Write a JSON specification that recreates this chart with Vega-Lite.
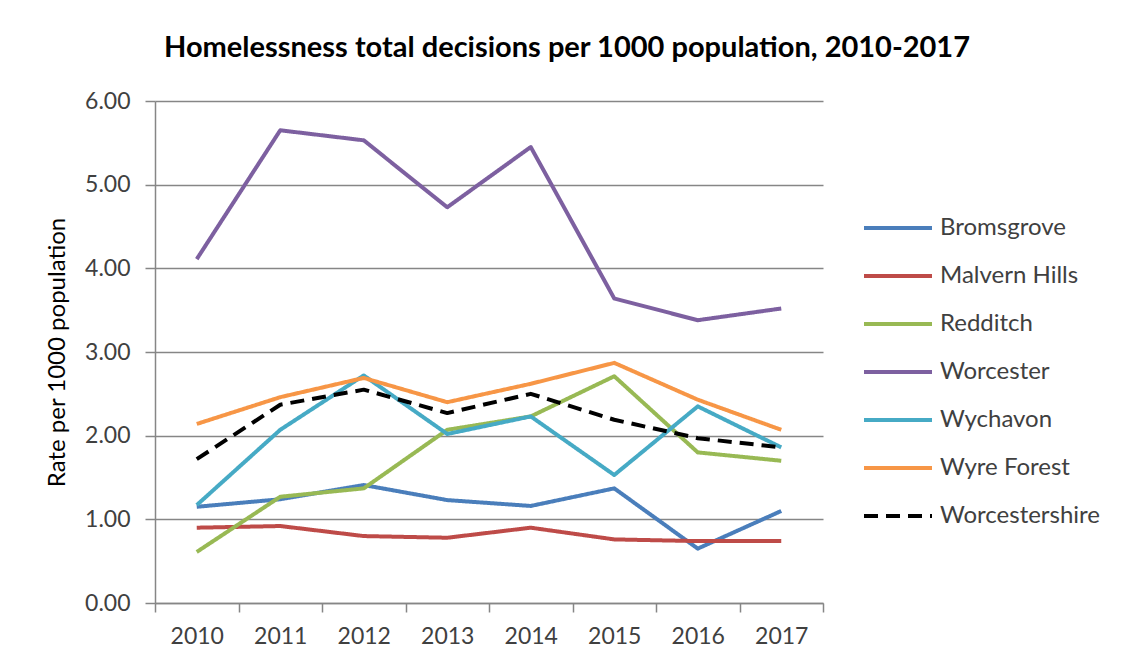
{
  "$schema": "https://vega.github.io/schema/vega-lite/v6.json",
  "width": 668,
  "height": 502,
  "autosize": {"type": "none"},
  "padding": {"left": 155, "top": 101, "right": 299, "bottom": 61},
  "background": "white",
  "title": {
    "text": "Homelessness total decisions per 1000 population, 2010-2017",
    "font": "Lato",
    "fontSize": 29,
    "fontWeight": "bold",
    "color": "#000000",
    "anchor": "middle",
    "dx": 78,
    "offset": 27
  },
  "data": {
    "values": [
      {"series": "Bromsgrove", "year": "2010", "rate": 1.15},
      {"series": "Bromsgrove", "year": "2011", "rate": 1.24},
      {"series": "Bromsgrove", "year": "2012", "rate": 1.41},
      {"series": "Bromsgrove", "year": "2013", "rate": 1.23},
      {"series": "Bromsgrove", "year": "2014", "rate": 1.16},
      {"series": "Bromsgrove", "year": "2015", "rate": 1.37},
      {"series": "Bromsgrove", "year": "2016", "rate": 0.65},
      {"series": "Bromsgrove", "year": "2017", "rate": 1.10},
      {"series": "Malvern Hills", "year": "2010", "rate": 0.90},
      {"series": "Malvern Hills", "year": "2011", "rate": 0.92},
      {"series": "Malvern Hills", "year": "2012", "rate": 0.80},
      {"series": "Malvern Hills", "year": "2013", "rate": 0.78},
      {"series": "Malvern Hills", "year": "2014", "rate": 0.90},
      {"series": "Malvern Hills", "year": "2015", "rate": 0.76},
      {"series": "Malvern Hills", "year": "2016", "rate": 0.74},
      {"series": "Malvern Hills", "year": "2017", "rate": 0.74},
      {"series": "Redditch", "year": "2010", "rate": 0.61},
      {"series": "Redditch", "year": "2011", "rate": 1.27},
      {"series": "Redditch", "year": "2012", "rate": 1.37},
      {"series": "Redditch", "year": "2013", "rate": 2.07},
      {"series": "Redditch", "year": "2014", "rate": 2.23},
      {"series": "Redditch", "year": "2015", "rate": 2.71},
      {"series": "Redditch", "year": "2016", "rate": 1.80},
      {"series": "Redditch", "year": "2017", "rate": 1.70},
      {"series": "Worcester", "year": "2010", "rate": 4.11},
      {"series": "Worcester", "year": "2011", "rate": 5.65},
      {"series": "Worcester", "year": "2012", "rate": 5.53},
      {"series": "Worcester", "year": "2013", "rate": 4.73},
      {"series": "Worcester", "year": "2014", "rate": 5.45},
      {"series": "Worcester", "year": "2015", "rate": 3.64},
      {"series": "Worcester", "year": "2016", "rate": 3.38},
      {"series": "Worcester", "year": "2017", "rate": 3.52},
      {"series": "Wychavon", "year": "2010", "rate": 1.17},
      {"series": "Wychavon", "year": "2011", "rate": 2.07},
      {"series": "Wychavon", "year": "2012", "rate": 2.72},
      {"series": "Wychavon", "year": "2013", "rate": 2.02},
      {"series": "Wychavon", "year": "2014", "rate": 2.23},
      {"series": "Wychavon", "year": "2015", "rate": 1.53},
      {"series": "Wychavon", "year": "2016", "rate": 2.35},
      {"series": "Wychavon", "year": "2017", "rate": 1.86},
      {"series": "Wyre Forest", "year": "2010", "rate": 2.14},
      {"series": "Wyre Forest", "year": "2011", "rate": 2.46},
      {"series": "Wyre Forest", "year": "2012", "rate": 2.69},
      {"series": "Wyre Forest", "year": "2013", "rate": 2.40},
      {"series": "Wyre Forest", "year": "2014", "rate": 2.62},
      {"series": "Wyre Forest", "year": "2015", "rate": 2.87},
      {"series": "Wyre Forest", "year": "2016", "rate": 2.43},
      {"series": "Wyre Forest", "year": "2017", "rate": 2.07},
      {"series": "Worcestershire", "year": "2010", "rate": 1.72},
      {"series": "Worcestershire", "year": "2011", "rate": 2.37},
      {"series": "Worcestershire", "year": "2012", "rate": 2.55},
      {"series": "Worcestershire", "year": "2013", "rate": 2.27},
      {"series": "Worcestershire", "year": "2014", "rate": 2.50},
      {"series": "Worcestershire", "year": "2015", "rate": 2.19},
      {"series": "Worcestershire", "year": "2016", "rate": 1.97},
      {"series": "Worcestershire", "year": "2017", "rate": 1.86}
    ]
  },
  "mark": {"type": "line", "strokeWidth": 4, "strokeJoin": "round"},
  "encoding": {
    "x": {
      "field": "year",
      "type": "ordinal",
      "bandPosition": 0.5,
      "scale": {"type": "band", "paddingInner": 0, "paddingOuter": 0},
      "axis": {
        "title": null,
        "labelAngle": 0,
        "tickBand": "extent",
        "tickSize": 9,
        "tickColor": "#868686",
        "tickWidth": 1.5,
        "domainColor": "#868686",
        "domainWidth": 1.5,
        "grid": false,
        "labelFont": "Lato",
        "labelFontSize": 23,
        "labelColor": "#404040",
        "labelPadding": 13
      }
    },
    "y": {
      "field": "rate",
      "type": "quantitative",
      "scale": {"domain": [0, 6], "nice": false},
      "axis": {
        "values": [0, 1, 2, 3, 4, 5, 6],
        "format": ".2f",
        "grid": true,
        "gridColor": "#868686",
        "gridWidth": 1.5,
        "domainColor": "#868686",
        "domainWidth": 1.5,
        "tickColor": "#868686",
        "tickWidth": 1.5,
        "tickSize": 10,
        "labelFont": "Lato",
        "labelFontSize": 23,
        "labelColor": "#404040",
        "labelPadding": 15,
        "title": "Rate per 1000 population",
        "titleFont": "Lato",
        "titleFontSize": 24,
        "titleFontWeight": "normal",
        "titleColor": "#000000",
        "titlePadding": 15
      }
    },
    "color": {
      "field": "series",
      "type": "nominal",
      "scale": {
        "domain": ["Bromsgrove", "Malvern Hills", "Redditch", "Worcester", "Wychavon", "Wyre Forest", "Worcestershire"],
        "range": ["#4a7ebb", "#be4b48", "#98b954", "#7d60a0", "#46aac5", "#f79646", "#000000"]
      },
      "legend": {
        "title": null,
        "orient": "none",
        "legendX": 707,
        "legendY": 91,
        "symbolType": "stroke",
        "symbolSize": 4624,
        "symbolStrokeWidth": 4,
        "labelFont": "Lato",
        "labelFontSize": 24,
        "labelColor": "#404040",
        "labelOffset": 6,
        "rowPadding": 0
      }
    },
    "strokeDash": {
      "field": "series",
      "type": "nominal",
      "scale": {
        "domain": ["Bromsgrove", "Malvern Hills", "Redditch", "Worcester", "Wychavon", "Wyre Forest", "Worcestershire"],
        "range": [[1, 0], [1, 0], [1, 0], [1, 0], [1, 0], [1, 0], [14, 8]]
      },
      "legend": {
        "title": null,
        "orient": "none",
        "legendX": 707,
        "legendY": 91,
        "symbolType": "stroke",
        "symbolSize": 4624,
        "symbolStrokeWidth": 4,
        "labelFont": "Lato",
        "labelFontSize": 24,
        "labelColor": "#404040",
        "labelOffset": 6,
        "rowPadding": 0
      }
    }
  },
  "config": {"view": {"stroke": null}}
}
